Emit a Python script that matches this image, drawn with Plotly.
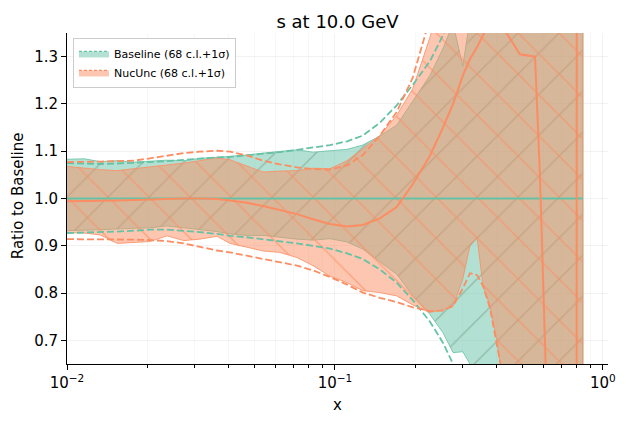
import plotly.graph_objects as go

# x grid (log spaced)
x = [0.0100, 0.0116, 0.0133, 0.0154, 0.0178, 0.0204, 0.0236, 0.0273, 0.0313, 0.0363,
     0.0406, 0.0469, 0.0539, 0.0623, 0.0722, 0.0828, 0.0958, 0.111, 0.127, 0.147,
     0.170, 0.195, 0.226, 0.253, 0.276, 0.300, 0.319, 0.339, 0.357, 0.379,
     0.402, 0.431, 0.490, 0.558, 0.582, 0.612, 0.700, 0.795, 0.800, 0.842]

# Baseline: central value, 68 c.l. band, 1 sigma band
base_cv = [1.0] * len(x)
base_hi = [1.083, 1.084, 1.078, 1.080, 1.077, 1.079, 1.081, 1.080, 1.085, 1.087,
           1.089, 1.092, 1.096, 1.099, 1.103, 1.098, 1.101, 1.104, 1.113, 1.132,
           1.155, 1.205, 1.260, 1.317, 1.370, 1.280, 1.380, 1.550, 1.600, 1.700,
           1.800, 1.900, 2.000, 2.200, 2.300, 2.400, 2.600, 2.800, 2.800, 2.900]
base_lo = [0.932, 0.933, 0.934, 0.935, 0.937, 0.938, 0.942, 0.938, 0.935, 0.930,
           0.925, 0.922, 0.922, 0.918, 0.914, 0.912, 0.915, 0.908, 0.893, 0.866,
           0.840, 0.795, 0.755, 0.716, 0.674, 0.676, 0.650, 0.620, 0.580, 0.550,
           0.500, 0.450, 0.350, 0.250, 0.200, 0.150, 0.100, 0.000, 0.000, -0.100]
base_sig_hi = [1.075, 1.074, 1.073, 1.074, 1.075, 1.077, 1.079, 1.082, 1.084, 1.087,
               1.088, 1.091, 1.094, 1.098, 1.103, 1.108, 1.113, 1.121, 1.133, 1.160,
               1.197, 1.240, 1.290, 1.345, 1.400, 1.470, 1.520, 1.580, 1.630, 1.700,
               1.780, 1.850, 2.000, 2.200, 2.300, 2.400, 2.600, 2.800, 2.800, 2.900]
base_sig_lo = [0.927, 0.928, 0.928, 0.930, 0.932, 0.934, 0.934, 0.932, 0.929, 0.925,
               0.921, 0.918, 0.914, 0.910, 0.905, 0.900, 0.894, 0.884, 0.872, 0.850,
               0.822, 0.785, 0.740, 0.695, 0.650, 0.620, 0.590, 0.560, 0.530, 0.500,
               0.450, 0.400, 0.300, 0.200, 0.150, 0.100, 0.050, 0.000, 0.000, -0.100]

# NucUnc: central value, 68 c.l. band, 1 sigma band
nuc_cv = [0.994, 0.994, 0.995, 0.996, 0.997, 0.999, 1.000, 1.000, 1.000, 0.999,
          0.996, 0.991, 0.984, 0.976, 0.967, 0.956, 0.946, 0.941, 0.944, 0.958,
          0.982, 1.030, 1.090, 1.150, 1.200, 1.260, 1.295, 1.320, 1.345, 1.380,
          1.420, 1.355, 1.305, 1.300, 1.050, 0.640, -1.000, -3.000, 3.000, 3.000]
nuc_hi = [1.068, 1.064, 1.061, 1.059, 1.063, 1.066, 1.070, 1.075, 1.080, 1.086,
          1.082, 1.068, 1.056, 1.058, 1.059, 1.064, 1.063, 1.080, 1.105, 1.133,
          1.176, 1.232, 1.340, 1.450, 1.600, 1.700, 1.800, 1.900, 2.000, 2.100,
          2.200, 2.300, 2.500, 2.700, 2.800, 3.000, 3.200, 3.300, 3.400, 3.500]
nuc_lo = [0.928, 0.927, 0.923, 0.905, 0.907, 0.909, 0.921, 0.911, 0.914, 0.920,
          0.905, 0.897, 0.889, 0.886, 0.875, 0.858, 0.836, 0.822, 0.805, 0.801,
          0.794, 0.775, 0.759, 0.765, 0.772, 0.830, 0.900, 0.918, 0.815, 0.773,
          0.700, 0.580, 0.400, 0.300, 0.250, 0.200, 0.100, 0.000, 0.000, -0.100]
nuc_sig_hi = [1.077, 1.077, 1.078, 1.079, 1.080, 1.085, 1.091, 1.096, 1.099, 1.101,
              1.099, 1.091, 1.080, 1.072, 1.066, 1.062, 1.061, 1.070, 1.092, 1.133,
              1.183, 1.255, 1.380, 1.500, 1.600, 1.700, 1.800, 1.900, 2.000, 2.100,
              2.200, 2.300, 2.500, 2.700, 2.800, 3.000, 3.200, 3.300, 3.400, 3.500]
nuc_sig_lo = [0.914, 0.914, 0.914, 0.914, 0.913, 0.912, 0.910, 0.905, 0.898, 0.890,
              0.886, 0.879, 0.872, 0.865, 0.858, 0.848, 0.834, 0.818, 0.801, 0.790,
              0.781, 0.770, 0.762, 0.763, 0.773, 0.810, 0.842, 0.838, 0.815, 0.768,
              0.695, 0.600, 0.400, 0.300, 0.250, 0.200, 0.100, 0.000, 0.000, -0.100]

GREEN = "#66c2a5"
ORANGE = "#fc8d62"
GREEN_FILL = "rgba(102,194,165,0.5)"
ORANGE_FILL = "rgba(252,141,98,0.5)"

fig = go.Figure()

# 68 c.l. bands, drawn as closed polygons so the edges show like fill_between
bands = [
    (base_hi, base_lo, GREEN_FILL, "rgba(102,194,165,0.8)", "/", "#7fa58c"),
    (nuc_hi, nuc_lo, ORANGE_FILL, "rgba(252,141,98,0.8)", "\\", ORANGE),
]
for hi, lo, fill, edge, shape, hatch in bands:
    fig.add_trace(go.Scatter(
        x=x + x[::-1], y=hi + lo[::-1],
        mode="lines", fill="toself", fillcolor=fill,
        line=dict(color=edge, width=1),
        fillpattern=dict(shape=shape, size=29, solidity=0.05,
                         fgcolor=hatch, fgopacity=0.6, bgcolor=fill),
        showlegend=False, hoverinfo="skip",
    ))

# 1 sigma bounds
for ys, col in [(base_sig_hi, GREEN), (base_sig_lo, GREEN),
                (nuc_sig_hi, ORANGE), (nuc_sig_lo, ORANGE)]:
    fig.add_trace(go.Scatter(
        x=x, y=ys, mode="lines",
        line=dict(color=col, width=1.8, dash="7px,3px"),
        showlegend=False, hoverinfo="skip",
    ))

# central values
fig.add_trace(go.Scatter(x=x, y=base_cv, mode="lines",
                         line=dict(color=GREEN, width=2), showlegend=False))
fig.add_trace(go.Scatter(x=x, y=nuc_cv, mode="lines",
                         line=dict(color=ORANGE, width=2), showlegend=False))

# legend entries
for name, fill, col in [("Baseline (68 c.l.+1σ)", GREEN_FILL, GREEN),
                        ("NucUnc (68 c.l.+1σ)", ORANGE_FILL, ORANGE)]:
    fig.add_trace(go.Scatter(
        x=[None], y=[None], mode="lines", fill="toself", fillcolor=fill,
        line=dict(color=col, width=1.2, dash="3px,2px"), name=name,
    ))

minor_x = [v * 10 ** e for e in (-2, -1) for v in range(2, 10)]

# page body has an 8px margin, so the figure is a bit smaller than the window
fig.update_layout(
    width=613, height=407,
    margin=dict(l=59, r=13, t=25, b=51),
    paper_bgcolor="white", plot_bgcolor="white",
    font=dict(family="DejaVu Sans", size=15, color="black"),
    title=dict(text="s at 10.0 GeV", x=0.5, xref="paper", xanchor="center",
               y=0.966, yanchor="middle", font=dict(size=18)),
    legend=dict(x=0.011, y=0.985, xanchor="left", yanchor="top",
                bgcolor="rgba(255,255,255,0.8)", bordercolor="#cccccc",
                borderwidth=1, font=dict(size=11), tracegroupgap=0,
                itemwidth=30),
    showlegend=True,
    annotations=[
        dict(text="x", xref="paper", yref="paper", x=0.5, y=-0.124,
             xanchor="center", yanchor="middle", showarrow=False,
             font=dict(size=15)),
        dict(text="Ratio to Baseline", xref="paper", yref="paper",
             x=-0.0906, y=0.51, xanchor="center", yanchor="middle",
             textangle=-90, showarrow=False, font=dict(size=15)),
    ],
)

fig.update_xaxes(
    type="log", range=[-2, 0.019], automargin=False,
    tickvals=[0.01, 0.1, 1.0],
    ticktext=["10<sup>−2</sup>", "10<sup>−1</sup>", "10<sup>0</sup>"],
    ticks="outside", ticklen=5, tickwidth=1, tickcolor="black",
    minor=dict(tickvals=minor_x, ticks="outside", ticklen=3, tickwidth=0.8,
               tickcolor="black", showgrid=True, gridcolor="rgba(0,0,0,0.03)"),
    showline=True, linecolor="black", linewidth=1, mirror=False,
    showgrid=True, gridcolor="rgba(0,0,0,0.05)", zeroline=False,
)
fig.update_yaxes(
    range=[0.65, 1.35], automargin=False,
    tickvals=[0.7, 0.8, 0.9, 1.0, 1.1, 1.2, 1.3],
    ticktext=["0.7", "0.8", "0.9", "1.0", "1.1", "1.2", "1.3"],
    ticks="outside", ticklen=5, tickwidth=1, tickcolor="black",
    showline=True, linecolor="black", linewidth=1, mirror=False,
    showgrid=True, gridcolor="rgba(0,0,0,0.05)", zeroline=False,
)

fig.write_html("out.html")
